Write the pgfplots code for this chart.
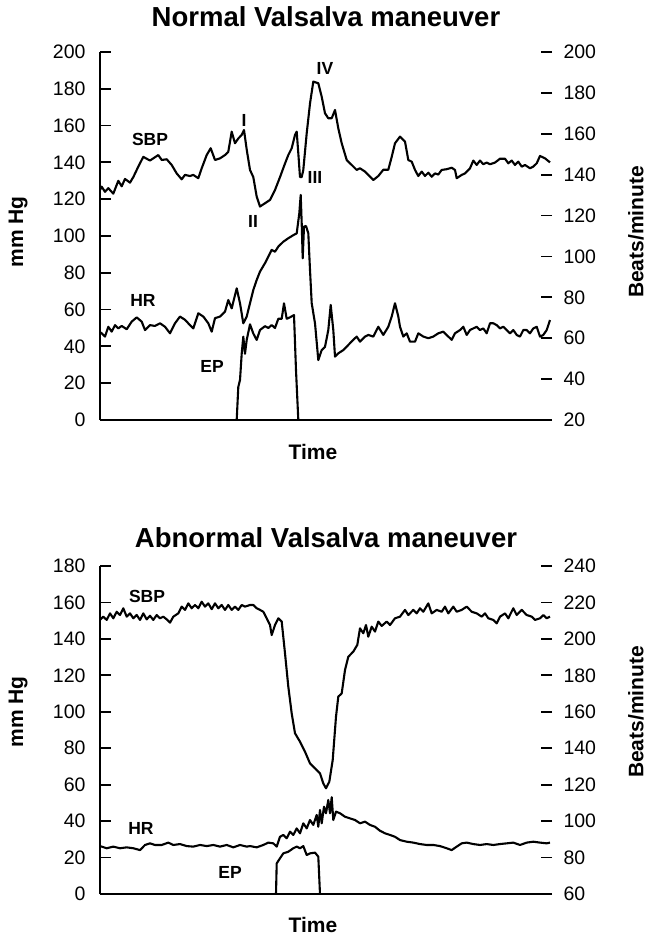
\documentclass[border=0pt]{standalone}
\usepackage{fontspec}
\setmainfont{Liberation Sans}
\usepackage{pgfplots}
\pgfplotsset{compat=1.18}

\pgfplotsset{
  vs/.style={scale only axis, width=452bp, xmin=0, xmax=452, xtick=\empty,
    tick align=inside, major tick length=11bp,
    every tick/.style={line width=1.8bp, black},
    axis line style={line width=1.9bp},
    /pgf/number format/assume math mode=true,
    tick label style={font=\fontsize{19.5bp}{22bp}\selectfont},
    label style={font=\bfseries\fontsize{21bp}{24bp}\selectfont},
    title style={font=\bfseries\fontsize{27.5bp}{31bp}\selectfont},
    clip=false},
  leftax/.style={axis x line*=bottom, axis y line*=left,
    yticklabel style={xshift=-11bp}},
  rightax/.style={axis x line=none, axis y line*=right,
    y axis line style={draw=none}, yticklabel style={xshift=8bp}},
  curve/.style={black, line width=2.1bp, line join=round, no marks},
}
\tikzset{tag/.style={font=\bfseries\fontsize{17.5bp}{20bp}\selectfont}}

\begin{document}
\begin{tikzpicture}
\useasboundingbox (0,0) rectangle (649bp,938bp);

% ---------------- Normal Valsalva maneuver ----------------
\begin{axis}[vs, leftax, at={(100bp,518bp)}, anchor=south west, height=368bp,
  ymin=0, ymax=200, ytick={0,20,...,200},
  title={Normal Valsalva maneuver},
  title style={at={(axis description cs:0.5,1.092)}, anchor=center, yshift=-5bp},
  xlabel={Time}, xlabel style={at={(axis description cs:0.471,-0.087)}, anchor=center},
  ylabel={mm Hg}, ylabel style={at={(axis description cs:-0.181,0.511)}, anchor=center}]
% SBP
\addplot[curve] coordinates {
(0,125) (1.7,126.8) (5,124) (8.3,126) (13.3,123) (18.3,130) (21.7,127) (25,131)
(30,129) (33.3,132) (38.3,137.7) (43.3,143) (50,141) (53.3,142.2) (58.3,144)
(61.7,141.3) (66.7,141.7) (71.7,138.6) (76.7,134) (81.7,130.8) (85,133.2)
(90,132.6) (93.3,133.2) (98.3,131.4) (101.7,136.8) (106.7,144) (110.7,147.7)
(115,141.3) (120,142.2) (125,144) (128.3,145.8) (131.7,156.7) (135,150.4)
(138.3,153) (141.7,154.9) (144,157.6) (146.7,147) (150,135.9) (153.3,132)
(156.7,121.4) (160,116) (165,117.8) (170,119.6) (175,125) (180,132) (185,139.4)
(188.3,144) (191.7,147.7) (195,154.9) (196.7,156.7) (198.3,145) (200,132)
(201.7,132) (203.3,135.9) (206.7,155.8) (210,172) (213.3,183.9) (218.3,183)
(221.7,175.7) (225,166.7) (228.3,164) (231.7,164) (235,168.5) (238.3,158.5)
(241.7,150.4) (246.7,141.3) (251.7,138.6) (256.7,135.9) (260,136.8) (265,135)
(268.3,133.2) (273.3,130.4) (278.3,132.6) (283.3,136) (288.3,136) (291.7,143)
(295,150.4) (300,154) (305,151.3) (308.3,141.3) (311.7,140.4) (315,135.9)
(318.3,132.6) (321.7,135) (325,132.6) (328.3,134.4) (331.7,132.2) (335,134)
(338.3,133.4) (341.7,135.9) (346.7,136.3) (351.7,137.1) (355,135.9) (356.7,131.4)
(361.7,133.2) (365,134) (370,136.8) (373.3,141) (376.7,138.6) (380,141)
(383.3,139) (386.7,139.9) (390,139) (395,139.9) (400,142) (405,142) (408.3,139.5)
(411.7,141) (415,138.6) (418.3,140.4) (421.7,137.7) (425,138.6) (430,136.8)
(433.3,137.7) (436.7,139.5) (440,143.5) (445,142.2) (450,140)
};
% EP
\addplot[curve] coordinates {
(136.7,0) (138.3,18) (140,21.7) (141.7,36) (143.3,45.3) (145,36) (146.7,43.5)
(150,52) (153.3,47) (156.7,43.5) (160,48.9) (165,51) (168.3,50) (171.7,51.6)
(175,50) (178.3,55) (181.7,55) (184,63.4) (186.7,55) (190,55.8) (194,57)
(196,27) (198.3,0)
};
\node[tag] at (axis cs:50,152.7) {SBP};
\node[tag] at (axis cs:43,64.7) {HR};
\node[tag] at (axis cs:112,29.3) {EP};
\node[tag] at (axis cs:144,163) {I};
\node[tag] at (axis cs:153,108) {II};
\node[tag] at (axis cs:215,132) {III};
\node[tag] at (axis cs:225,190.8) {IV};
\end{axis}

\begin{axis}[vs, rightax, at={(100bp,518bp)}, anchor=south west, height=368bp,
  ymin=20, ymax=200, ytick={20,40,...,200},
  ylabel={Beats/minute}, ylabel style={at={(axis description cs:1.186,0.511)}, anchor=center}]
% HR
\addplot[curve] coordinates {
(0,63) (1.7,62.4) (5,60.8) (8.3,65.6) (11.7,63.2) (15,66.4) (18.3,64.8) (21.7,66)
(26.7,64.4) (31.7,68.1) (36.7,70.2) (41.7,68.1) (45,64) (50,66.4) (55,66)
(60,67.3) (65,65.6) (70,62.4) (75,67.3) (80,70.6) (85,69) (90,66.4) (93.3,64.8)
(98.3,72.2) (103.3,70.6) (108.3,67.3) (111.7,63.2) (115,69.8) (120,70.6)
(125,73) (128.3,78.7) (131.7,74.6) (136.7,84.4) (140,77.1) (143.3,67.3)
(146.7,70.6) (150,77.1) (153.3,83.6) (156.7,88.5) (160,92.6) (165,96.7)
(168.3,99.9) (171.7,103.2) (175,102.3) (178.3,104.8) (183.3,107.2) (188.3,108.9)
(193.3,110.4) (196.7,111.3) (199.3,121.1) (200.7,130.1) (201.7,116.2)
(202.7,99.1) (204,114.6) (206,114.9) (208.3,111.3) (210,93.4) (211.7,77.1)
(215,67.3) (218.3,49.3) (221.7,54.2) (225,55.8) (228.3,64) (230.7,76.3)
(233.3,64) (235,51) (238.3,52.6) (243.3,54.2) (248.3,56.7) (253.3,59.2)
(256.7,60.8) (260,58.3) (265,60.8) (268.3,61.6) (273.3,60.8) (278.3,65.6)
(283.3,61.6) (288.3,65.6) (291.7,70.6) (295,77.1) (298.3,70.6) (300,65.6)
(303.3,60.8) (306.7,62.4) (310,58.3) (315,58.3) (318.3,62.4) (323.3,60.8)
(328.3,60) (333.3,60.8) (338.3,62.4) (343.3,63.2) (348.3,60.8) (351.7,59.2)
(355,62.4) (360,64) (363.3,65.6) (366.7,61.6) (370,64) (373.3,64.8) (376.7,65.6)
(380,64) (383.3,64.8) (386.7,62.4) (390,67.3) (393.3,67.3) (396.7,66.4)
(400,64.8) (403.3,65.6) (406.7,64) (410,62.4) (413.3,64) (416.7,61.6) (420,60.8)
(423.3,64) (426.7,64) (430,62.4) (433.3,64.8) (436.7,65.6) (440,60.8)
(443.3,61.6) (446.7,64) (450,68.9)
};
\end{axis}

% ---------------- Abnormal Valsalva maneuver ----------------
\begin{axis}[vs, leftax, at={(100bp,44bp)}, anchor=south west, height=328bp,
  ymin=0, ymax=180, ytick={0,20,...,180},
  title={Abnormal Valsalva maneuver},
  title style={at={(axis description cs:0.5,1.079)}, anchor=center, yshift=-4bp},
  xlabel={Time}, xlabel style={at={(axis description cs:0.471,-0.0945)}, anchor=center},
  ylabel={mm Hg}, ylabel style={at={(axis description cs:-0.181,0.555)}, anchor=center}]
% SBP
\addplot[curve] coordinates {
(0,150.4) (3.3,152.2) (6.7,150.4) (10,154) (13.3,151.3) (16.7,154.9) (20,153.1)
(23.3,156.8) (26.7,152.2) (30,154) (33.3,151.3) (36.7,153.1) (40,150.4) (43.3,154)
(46.7,150.7) (50,152.7) (53.3,150.4) (56.7,153.1) (60,151.3) (63.3,152.2)
(66.7,150.7) (70,148.9) (73.3,152.2) (78.3,154) (81.7,157.7) (85,155.9)
(88.3,159.5) (91.7,156.8) (95,158.6) (98.3,156.8) (101.7,160.4) (105,157.7)
(108.3,159.5) (111.7,156.3) (115,159.5) (118.3,156.8) (121.7,158.6) (125,155.9)
(128.3,158.6) (131.7,155.9) (135,157.7) (138.3,155.9) (141.7,158.6) (145,157.7)
(150,158.6) (153.3,158.6) (156.7,156.8) (160,155.9) (163.3,154.9) (166.7,151.3)
(170,147.6) (171.7,142.1) (175,147.6) (178.3,151.3) (181.7,149.5) (185,132.1)
(188.3,113.8) (191.7,99.1) (195,88.2) (200,83.6) (205,78.1) (210,71.7) (215,69)
(220,66.2) (223.3,60.7) (226,58) (229.3,61.6) (232.7,73.5) (236,97.3)
(238.3,108.3) (241.7,110.1) (245,122.9) (248.3,130.2) (253.3,133) (257.3,136.7)
(260,145.8) (263.3,143.1) (266,147.6) (268.3,141.2) (271.7,146.7) (275,144)
(278.3,149.5) (281.7,147.1) (286.7,149.5) (290,147.6) (295,151.3) (300,152.2)
(305,155.9) (308.3,153.1) (313.3,155.9) (316.7,154) (320,156.8) (323.3,154.9)
(328.3,159.5) (331.7,154) (336.7,155.9) (341.7,154.9) (345,157.7) (348.3,154)
(353.3,157.7) (356.7,154.9) (361.7,155.9) (366.7,157.7) (371.7,154.9)
(376.7,154) (381.7,152.2) (385,154) (388.3,151.3) (393.3,150.4) (396.7,148.5)
(400,152.2) (405,154) (408.3,151.3) (413.3,156.8) (416.7,153.1) (421.7,155.9)
(426.7,153.1) (431.7,152.2) (435,150.4) (440,151.3) (443.3,153.1) (446.7,151.3)
(450,152.2)
};
% EP
\addplot[curve] coordinates {
(176,0) (176.7,16.8) (180,19.6) (183.3,22.3) (188.3,23.2) (193.3,25.1) (196.7,26)
(200,25.1) (203.3,26.3) (206.7,21.4) (210,22.3) (215,22.7) (218.3,20.5) (220,0)
};
\node[tag] at (axis cs:47,163) {SBP};
\node[tag] at (axis cs:41,35.7) {HR};
\node[tag] at (axis cs:130,12) {EP};
\end{axis}

\begin{axis}[vs, rightax, at={(100bp,44bp)}, anchor=south west, height=328bp,
  ymin=60, ymax=240, ytick={60,80,...,240},
  ylabel={Beats/minute}, ylabel style={at={(axis description cs:1.186,0.555)}, anchor=center}]
% HR
\addplot[curve] coordinates {
(0,86.3) (6.7,85.1) (13.3,86) (20,85.1) (26.7,85.6) (33.3,85.1) (40,84.1)
(45,86.9) (50,87.8) (55,86.9) (61.7,86.9) (68.3,88.2) (73.3,86.9) (80,87.4)
(86.7,86.3) (93.3,86) (100,86.9) (106.7,86.3) (113.3,86.9) (120,86) (126.7,86.9)
(133.3,85.6) (140,86.9) (146.7,86) (150,86.3) (156.7,85.6) (163.3,86.9)
(168.3,88.2) (173.3,87.8) (176.7,86) (180,91.4) (183.3,92.4) (186.7,90.6)
(190,94.2) (193.3,92.4) (196.7,96) (200,93.3) (203.3,98.8) (206.7,96)
(210,100.6) (213.3,97.9) (216.7,103.4) (218.3,96.9) (220,106.1) (221.7,98.8)
(224,107.9) (226,104.3) (228.3,111.6) (230,104.3) (231.7,113.1) (233.3,100.6)
(236,105.2) (240,104.3) (245,102.4) (250,101.5) (255,100.6) (260,98.8)
(265,99.7) (270,97.9) (275,96.9) (280,94.7) (285,93.3) (290,92.4) (295,91.4)
(300,89.6) (306.7,88.7) (313.3,88.2) (320,87.4) (326.7,86.9) (333.3,86.9)
(340,86.3) (346.7,85.1) (351.7,84.1) (356.7,86) (361.7,87.8) (366.7,88.2)
(373.3,87.4) (380,86.9) (386.7,87.4) (393.3,86.9) (400,87.4) (406.7,87.8)
(413.3,88.2) (420,86.9) (426.7,88.2) (433.3,88.7) (440,88.2) (446.7,87.8)
(450,88.2)
};
\end{axis}
\end{tikzpicture}
\end{document}
